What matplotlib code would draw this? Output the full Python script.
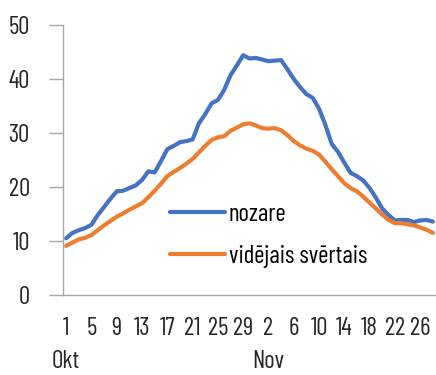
import matplotlib.pyplot as plt

# daily values, 1 Oct - 28 Nov
oct_days = list(range(1, 32))
nov_days = list(range(1, 29))
days = oct_days + nov_days

nozare = [10.5, 11.5, 12.0, 12.4, 13.0, 14.8, 16.3, 17.8, 19.2, 19.3,
          19.8, 20.3, 21.3, 22.9, 22.7, 24.8, 27.0, 27.6, 28.3, 28.5,
          28.8, 31.8, 33.5, 35.5, 36.1, 38.0, 40.7, 42.5, 44.4, 43.8,
          43.9, 43.6, 43.3, 43.4, 43.5, 41.8, 40.0, 38.5, 37.2, 36.5,
          34.5, 31.5, 28.0, 26.5, 24.5, 22.6, 22.0, 21.2, 19.8, 18.0,
          16.0, 14.8, 13.8, 13.9, 13.9, 13.5, 13.8, 13.9, 13.6]
videjais = [9.1, 9.7, 10.3, 10.6, 11.1, 12.0, 12.9, 13.7, 14.5, 15.1,
            15.8, 16.4, 17.0, 18.1, 19.3, 20.6, 22.0, 22.8, 23.5, 24.3,
            25.2, 26.4, 27.6, 28.7, 29.2, 29.4, 30.4, 31.0, 31.6, 31.8,
            31.4, 30.9, 30.8, 30.9, 30.5, 29.6, 28.5, 27.7, 27.1, 26.7,
            26.0, 24.7, 23.3, 22.0, 20.7, 19.8, 19.2, 18.2, 17.1, 16.0,
            14.9, 13.9, 13.3, 13.3, 13.1, 12.9, 12.5, 12.1, 11.5]
months = ["Okt", "Nov"]
month_pos = [0, 32]

plt.rcParams["font.family"] = ["Barlow Condensed", "DejaVu Sans"]
plt.rcParams["font.weight"] = 400
fs = 18

x = list(range(len(days)))

fig = plt.figure(figsize=(4.36, 3.75), dpi=100)
ax = fig.add_axes([63 / 436, 80 / 375, 373 / 436, 270 / 375])

ax.plot(x, nozare, color="#4472C4", lw=3, solid_joinstyle="round",
        solid_capstyle="round", label="nozare")
ax.plot(x, videjais, color="#ED7D31", lw=3, solid_joinstyle="round",
        solid_capstyle="round", label="vidējais svērtais")

ax.set_xlim(-0.5, len(days) - 0.5)
ax.set_ylim(0, 50)
ax.set_yticks(range(0, 51, 10))
ax.set_xticks(x[::4])
ax.set_xticklabels([str(d) for d in days[::4]])

for s in ["top", "right"]:
    ax.spines[s].set_visible(False)
for s in ["left", "bottom"]:
    ax.spines[s].set_color("#a6a6a6")
    ax.spines[s].set_linewidth(1)

ax.tick_params(axis="y", length=10, width=1, color="#a6a6a6", pad=14,
               labelsize=fs, labelcolor="#262626")
ax.tick_params(axis="x", length=0, pad=16, labelsize=fs, labelcolor="#262626")

for m, p in zip(months, month_pos):
    ax.text(p, -0.245, m, transform=ax.get_xaxis_transform(), ha="center",
            va="center", fontsize=fs, color="#262626")

ax.legend(loc="upper left", bbox_to_anchor=(0.287, 0.34), frameon=False,
          fontsize=fs, handlelength=2.2, handletextpad=0.15,
          labelspacing=0.75, borderpad=0, borderaxespad=0)

fig.savefig("out.png", dpi=100)
